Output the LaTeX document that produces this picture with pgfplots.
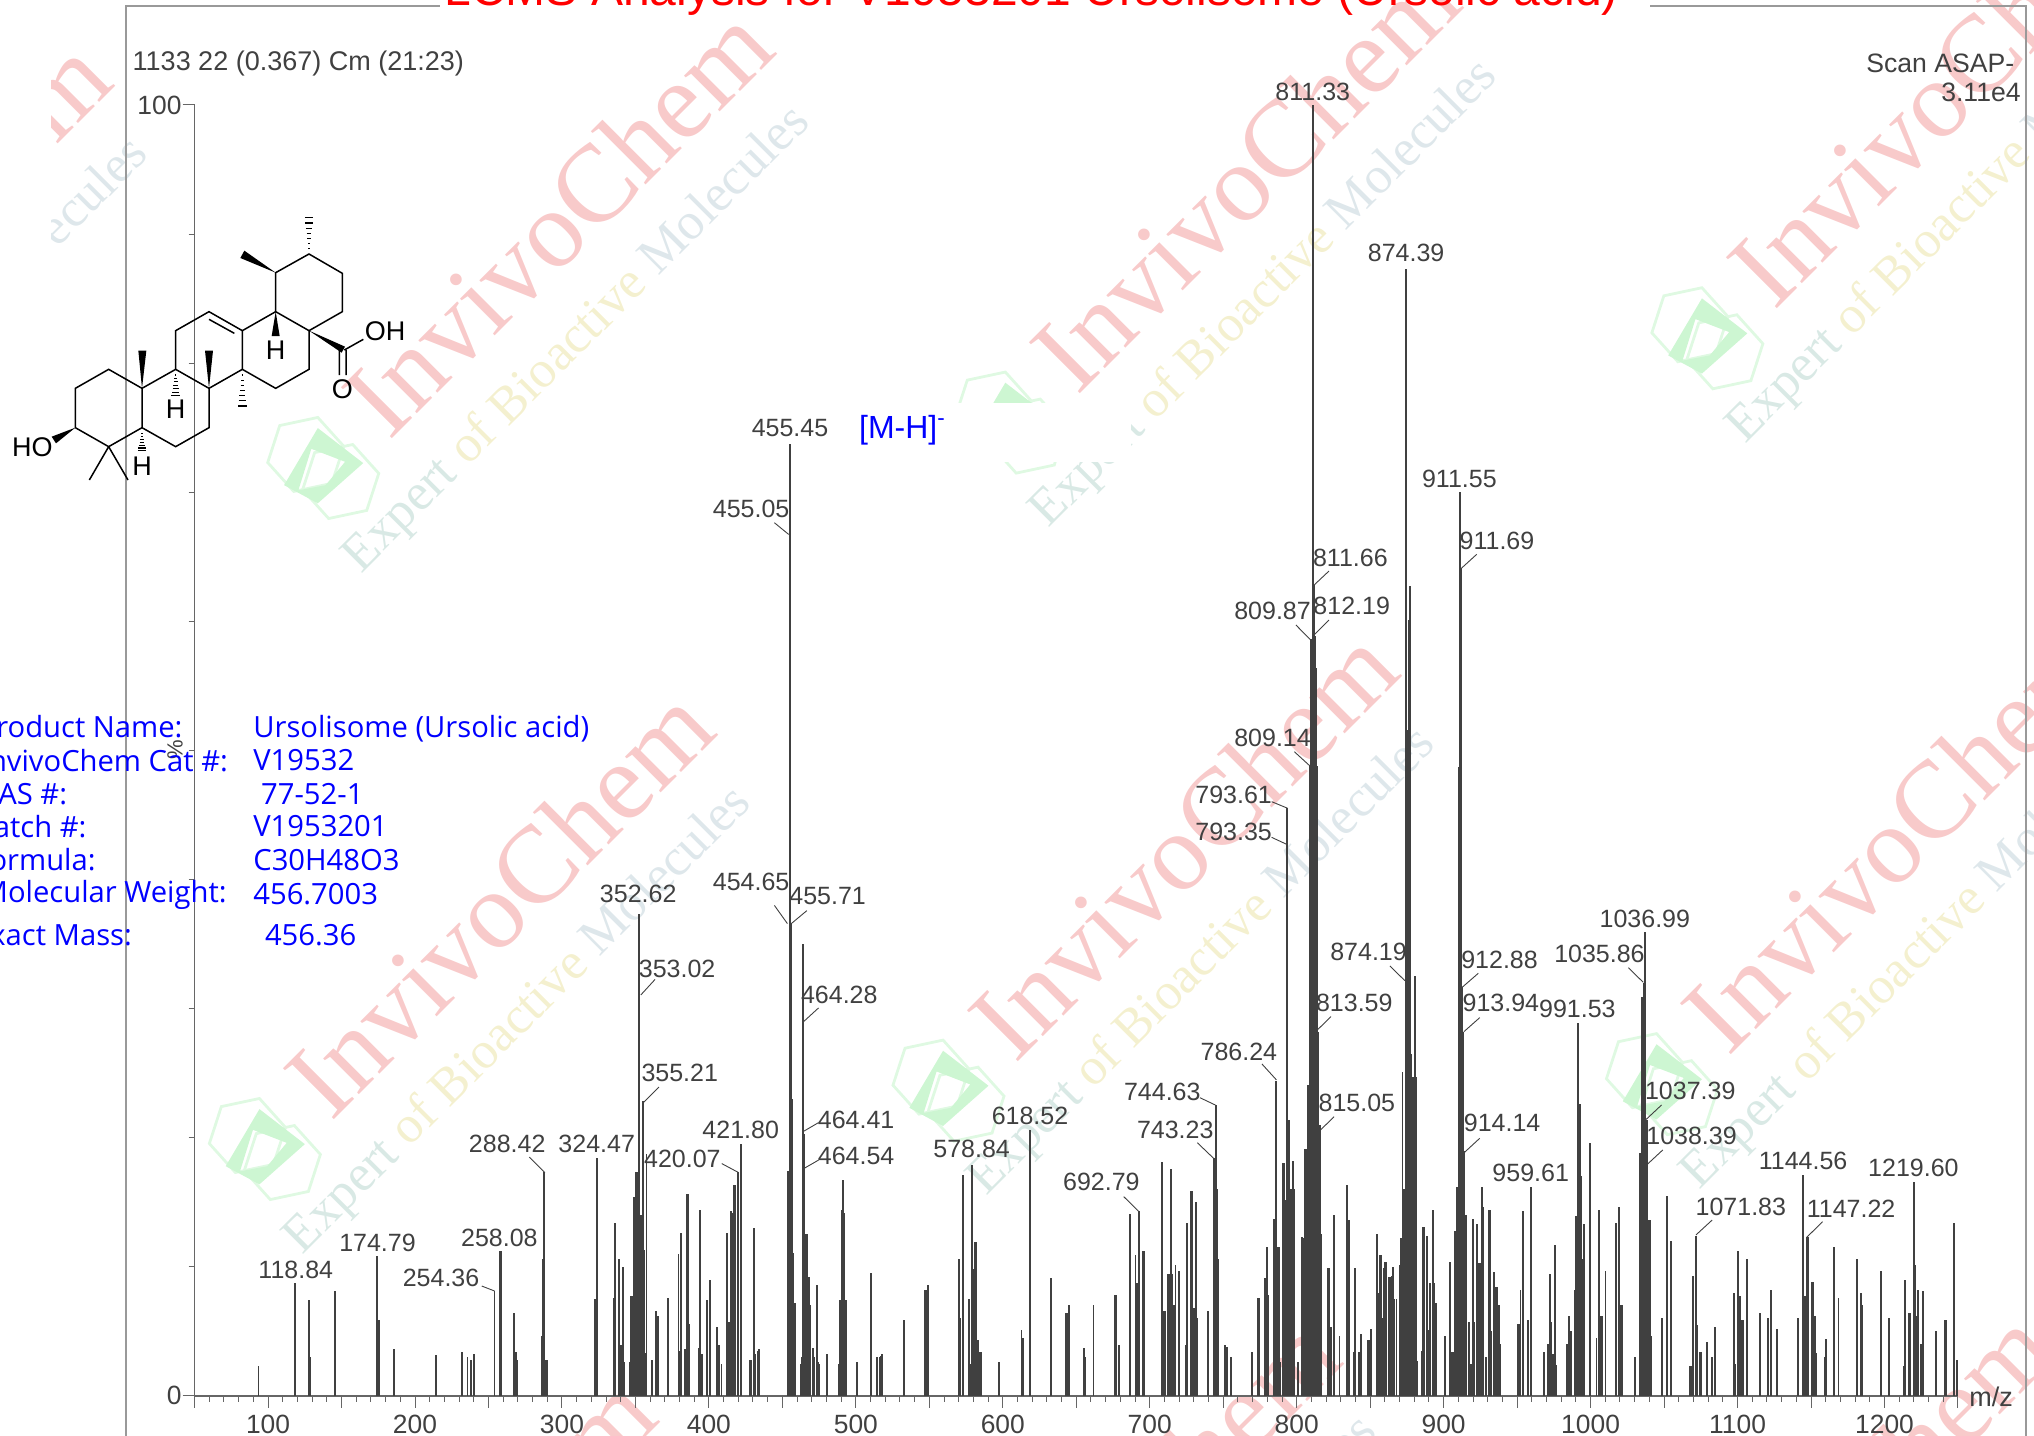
\documentclass[border=0pt]{standalone}
\usepackage{fontspec}
\usepackage{pgfplots}
\pgfplotsset{compat=1.18}
\setmainfont{Liberation Sans}
\newfontfamily\wmfont{Liberation Serif}
\newfontfamily\infofont{Open Sans}
\definecolor{peak}{HTML}{404040}
\definecolor{axgray}{HTML}{666666}
\definecolor{framegray}{HTML}{999999}
\definecolor{wmred}{HTML}{F8CACA}
\definecolor{wmgreen}{HTML}{DFF9E2}
\definecolor{wmgreenb}{HTML}{CDF6D2}
\definecolor{wma}{HTML}{D9E9E5}
\definecolor{wmb}{HTML}{F4F0CF}
\definecolor{wmc}{HTML}{DEE7EB}

% watermark block, origin is the centre of the hexagon logo
\newcommand{\wm}[2]{%
\begin{scope}[shift={(#1,#2)}]
  \draw[wmgreen,line width=1.4pt,rotate=12] (-10,-12)++(30,0)--++(120:30)--++(180:30)--++(240:30)--++(300:30)--++(0:30)--cycle;
  \draw[wmgreen,line width=1.4pt,rotate=12] (12,14)++(30,0)--++(120:30)--++(180:30)--++(240:30)--++(300:30)--++(0:30)--cycle;
  \fill[wmgreenb,even odd rule] (-3,-30)--(32,-3)--(-3,28)--(-29,14)--cycle (-8,-14)--(18,-4)--(3,14)--(-18,18)--cycle;
  \node[rotate=45,text=wmred,font=\wmfont\fontsize{55}{55}\selectfont] at (182,-190) {InvivoChem};
  \node[rotate=45,font=\wmfont\fontsize{26}{26}\selectfont] at (197,-98)
    {\textcolor{wma}{Expert} \textcolor{wmb}{of Bioactive} \textcolor{wmc}{Molecules}};
\end{scope}}
\newcommand{\hash}[3]{% x, narrow end y, wide end y
  \foreach \t in {0,0.16,...,1.01} {
    \pgfmathsetmacro{\hy}{#2+(#3-#2)*\t}
    \pgfmathsetmacro{\hw}{2+11*\t}
    \draw[line width=0.55pt] (#1-\hw,\hy)--(#1+\hw,\hy);
  }}
\newcommand{\lb}[3]{\node[text=peak,font=\fontsize{12.5}{12.5}\selectfont,inner sep=0pt] at (#1,#2) {#3};}
\newcommand{\ld}[4]{\draw[peak,line width=0.45pt] (#1,#2)--(#3,#4);}

\begin{document}
\begin{tikzpicture}[x=0.6486pt,y=-0.6486pt]
\useasboundingbox (0,0) rectangle (1568,1107);
\clip (0,0) rectangle (1568,1107);

% watermarks
\begin{scope}
  \clip (40,0) rectangle (1568,190);
  \wm{-262}{385}
\end{scope}
\wm{248}{360}
\wm{778}{325}
\wm{1315}{260}
\wm{203}{885}
\wm{730}{840}
\wm{1280}{835}
\wm{158}{1415}
\wm{685}{1370}
\wm{1235}{1365}
\fill[white] (648,311) rectangle (872,356);

% frame round the spectrum
\draw[framegray,line width=0.9pt] (339,4.5)--(97,4.5)--(97,1107);
\draw[framegray,line width=0.9pt] (1272,4.5)--(1562,4.5)--(1562,1107);
\node[text=red,anchor=base,inner sep=0pt,font=\fontsize{24}{24}\selectfont] at (795,4)
  {LCMS Analysis for V1953201 Ursolisome (Ursolic acid)};

\coordinate (axorigin) at (150,1076);
\begin{axis}[
    at={(axorigin)},
    anchor=south west,
    scale only axis,
    width=881.7pt,
    height=645.4pt,
    xmin=50, xmax=1250,
    ymin=0, ymax=100,
    axis lines=left,
    axis line style={axgray,line width=0.75pt,-},
    clip=false,
    xtick={50,100,...,1250},
    xticklabels={,100,,200,,300,,400,,500,,600,,700,,800,,900,,1000,,1100,,1200,},
    minor xtick={60,70,80,90,110,120,130,140,160,170,180,190,210,220,230,240,260,270,280,290,310,320,330,340,360,370,380,390,410,420,430,440,460,470,480,490,510,520,530,540,560,570,580,590,610,620,630,640,660,670,680,690,710,720,730,740,760,770,780,790,810,820,830,840,860,870,880,890,910,920,930,940,960,970,980,990,1010,1020,1030,1040,1060,1070,1080,1090,1110,1120,1130,1140,1160,1170,1180,1190,1210,1220,1230,1240},
    ytick={0,100},
    yticklabels={0,100},
    minor ytick={10,20,...,90},
    tick align=outside,
    major tick length=6pt,
    minor tick length=3pt,
    tick style={axgray,line width=0.5pt},
    ticklabel style={text=peak,font=\fontsize{13.2}{13.2}\selectfont},
    y tick label style={xshift=3pt},
    /pgf/number format/assume math mode=true,
]
\addplot[ycomb,no markers,color=peak,line width=0.95pt] coordinates {
(93.5,2.3)(118.4,8.7)(127.6,7.4)(128.4,3.0)(145.5,8.1)(174.3,10.8)(175.5,5.9)(185.5,3.5)(186,3.6)
(214.3,3.15)(232.2,3.4)(235.7,3.0)(238.4,2.8)(240.2,3.2)(254.1,8.1)(257.8,11.2)(258.3,11.2)
(267.1,6.4)(267.7,6.4)(268.5,3.4)(269.6,2.8)(286.4,4.6)(287,10.6)(288.05,17.3)(289.1,2.8)(290,2.8)
(322.2,7.5)(323.6,18.4)(335.6,7.6)(336.4,13.4)(338.5,10.6)(339.1,10.6)(339.9,3.9)(341.3,10)(342.3,2.6)
(346.6,2.6)(347.2,7.7)(348.4,7.7)(349.2,15.4)(349.8,15.4)(350.5,17.3)(351,17.3)(351.4,7.7)(351.9,7.7)
(352.3,37.3)(352.8,37.3)(353.2,11.3)(353.6,13.9)(354,14)(354.5,11.3)(355,22.8)(355.4,22.8)(355.8,11.3)
(356.2,11.3)(356.8,3.3)(357.5,18.7)(361.3,2.8)(364.2,6.6)(365.3,6.2)(372.4,7.6)(379.3,11)(380,3.5)(380.9,12.6)
(383.6,3.6)(385.2,15.6)(385.8,15.6)(386.6,5.6)(393.4,3.7)(394.2,14.4)(395.3,3.2)(398.5,7.4)(400.5,9)
(405.4,5.3)(407,3.9)(408.6,2.5)(412.6,12.6)(413.7,5.7)(415,14.3)(415.6,14.2)(417.1,16.3)(417.8,16.3)(419.6,17.3)
(421.9,19.5)(427.9,2.8)(428.6,2.8)(430.8,13)(431.6,3.2)(433.6,3.5)(434.2,3.6)
(453.6,17.4)(454.4,17.4)(455,73.7)(455.3,66.7)(455.6,36.6)(456,36.6)(456.7,23)(457.4,11.1)(458.3,7.2)
(462.4,2.5)(463.1,3)(463.6,3)(464.2,35)(464.5,20.3)(464.9,17.4)(465.6,12.5)(466.6,12.5)(467.5,9.2)(468,9.2)(468.5,7)
(471,3.7)(471.7,3)(473.3,8.6)(474.1,2.6)(474.8,2.5)(480.4,3.2)(488.4,2.5)(489.4,7.4)(490.3,14.4)(490.7,14.4)(491.5,16.7)(492,14.2)(493.5,7.4)
(500.7,2.6)(510.6,9.5)(514.3,3)(516.3,3)(516.9,3.1)(517.7,3.2)(532.6,5.9)(546.9,8.2)(547.6,8.2)(548.9,8.6)
(570.4,10.6)(570.8,6)(573,17.1)(576.7,7.5)(577.5,2.5)(579,17.9)(579.8,9.8)(581,11.9)(581.6,11.9)(582.7,4.3)(583.2,4.3)(584.4,3.4)(585,3.4)
(597.3,2.6)(612.7,5.1)(613.9,4.5)(618.5,20.6)(633,9.1)(643.1,6.4)(644,6.4)(645,7)(655.1,3.7)(655.7,3)(661.7,7)
(676.3,7.8)(676.9,7.8)(678.8,3.9)(679.4,3.9)(686.3,14.1)(690.3,10.9)(691.1,8.7)(692,8.7)(692.8,14.3)(695.7,11.2)(696.3,11.2)
(708.6,18.1)(709.5,6.6)(710.4,6.6)(712.6,9.4)(713.4,9.4)(714.6,17.6)(715.2,9.4)(716.3,7)(717.5,10.1)(720,9.7)
(724.8,3.9)(725.6,13.4)(728,15.9)(728.6,15.9)(729.2,6.1)(730.3,6.8)(731.5,15)(732.1,6)(739.5,6.6)
(743.5,18.4)(744.1,18.4)(744.9,22.5)(745.5,16)(746.1,10.6)(746.7,10.6)(751.2,3.9)(752.6,3.8)(755.2,3)
(769.5,3.4)(773.5,7.6)(774.1,7.6)(778.7,9.1)(779.6,11.5)(780.4,7.8)(784.8,13.7)(786.2,24.4)(787,11.5)(787.7,11.5)(788.3,11.5)(789,2.6)
(790.3,18)(791.1,18)(791.6,15.2)(792.2,15.2)(792.7,15.2)(793.4,45.5)(793.6,42.7)(794.2,21.4)(795,21.4)(795.6,16)(796.2,16)(797.6,18.2)(798.2,16)
(801,2.6)(803.4,12.3)(804.7,12.2)(805.4,19.1)(806.2,19.1)(806.8,12.5)(807.5,24.1)(808.2,24.1)(808.8,48.8)(809.3,48.8)(809.8,58.6)(810.3,58.6)
(810.8,56.4)(811.3,100)(811.7,62.8)(812.2,58.9)(812.6,56.4)(813,56.4)(813.5,48.8)(814,48.8)(814.4,28.2)(815,21)(815.6,21)(816.4,12.5)(816.8,12.5)
(821.3,9.9)(821.9,9.9)(822.8,5.3)(823.4,5.3)(825.1,14)(825.7,14)(829.1,4.6)(834.3,16.3)(835.1,13.6)(835.9,13.6)(839,3.4)(839.9,9.9)(842.4,3.4)(843.6,4.8)
(848.7,4.3)(849.3,4.3)(850.4,5.2)(854.7,12.5)(855.5,8)(856.9,10.9)(857.7,10.9)(858.3,6)(859.2,9.9)(860.3,10.4)(860.9,10.4)(862.9,9.2)(864.2,9.2)(865,9.3)(865.6,10)(866.4,7.5)
(867.9,7.5)(870.2,10.1)(871.1,12.2)(872,25.1)(872.8,16)(873.3,16)(873.8,16)(874.2,16)(874.6,87.3)(875,32)(875.4,51.6)(876,51.6)(876.5,60.1)(877,62.7)(877.4,51.6)
(877.9,26.5)(878.3,24.7)(878.8,24.7)(879.3,24.7)(879.8,24.7)(880.3,32.5)(880.7,32.5)(881.1,24.7)(881.6,2.7)
(884.9,3.5)(886,13.1)(886.8,13.1)(888.5,12.4)(889.1,2.9)(890,5.1)(890.9,8.7)(892.6,14.4)(893.2,8.7)(893.9,6.2)(895,7.2)
(901.1,4.6)(904.4,10.4)(905.5,3.4)(906.2,3.4)(907.4,12.8)(908.2,12.8)(909.1,16.2)(909.8,16.2)(910.2,48.7)(910.7,48.7)(911.2,70)(911.6,64.1)(912,48.7)(912.4,31.7)(912.8,28.2)(913.2,28.2)
(913.6,19)(914,19)(914.4,14)(914.9,14)(917,5.7)(918.4,2.5)(920.1,13.7)(921,5.7)(922.6,13.3)(923.7,10.3)(924.5,10.3)(926.1,16.2)(926.9,14.6)(928.6,3)
(931.1,14.4)(931.7,14.4)(932.5,5)(934.4,9.6)(935.5,8.4)(936.6,8.4)(937.7,7)(938.2,4)
(950.4,5.6)(951.4,5.6)(952.3,8.2)(953.7,14.3)(957.3,5.9)(959.5,16.2)(968,3.4)(971.3,4)(972.1,9.4)(973.2,5.7)(974.2,3.2)(975.7,11.7)(976.5,2.4)
(983.7,4)(985.3,6.2)(986.4,5)(989.2,8.2)(990.3,13.9)(991.7,28.9)(992.5,22.6)(993.3,17)(994.7,10.6)(995.4,10.6)(995.8,13.3)
(999.7,19.6)(1004,4.5)(1005.6,14.4)(1007.3,6.2)(1008,6.2)(1010.1,9.7)(1017.4,13.4)(1019.6,14.6)(1020.5,7)(1021.2,7)
(1030.4,3)(1033.5,18.8)(1034,11.7)(1034.8,18.8)(1035.2,30.9)(1035.8,30.9)(1036.3,32)(1036.8,11.7)(1037.2,35.9)(1037.7,21.4)(1038.1,21.4)(1038.6,17.9)
(1039.2,12)(1039.7,13.6)(1040.2,13.6)(1041.1,4.6)(1048.8,6)(1051.7,15.5)(1054.9,12)
(1067.6,2.3)(1068.6,2.3)(1069.4,9.3)(1071.7,12.4)(1072.6,5.5)(1074.2,3.4)(1075,3.4)(1079.5,4.2)(1082.8,3)(1084.7,5.3)
(1097.4,8)(1098.2,2.5)(1100.1,11.2)(1101.5,7.7)(1102.9,5.9)(1103.7,5.9)(1106.7,10.6)(1115,6.4)(1120.5,6)(1123,8.2)(1127.1,5.2)
(1141.1,6)(1144.7,17.1)(1145.8,7.7)(1147.2,12.3)(1147.8,12.3)(1150.5,8.8)(1151.1,8.8)(1152,5)(1153,6.2)(1153.7,3.3)(1159.2,3)(1160.1,4.4)
(1165.9,11.5)(1168.7,7.6)(1181.3,10.6)(1184,8)(1184.9,7)(1197.6,9.7)(1203.3,6)(1213.2,2.3)(1214,9)(1216.5,6.4)(1217.3,6.4)
(1219.8,16.6)(1220.7,10.1)(1221.3,6.2)(1222,6.2)(1222.9,8.2)(1224.5,4)(1225.3,4)(1226.2,8.1)(1235.3,5)(1241.3,5.9)(1242,5.9)(1247.4,13.4)(1249.3,2.8)
};
\end{axis}

% leader lines
\ld{371.4}{991.4}{381.2}{995.2}
\ld{408}{892}{420}{904}
\ld{505}{755}{494}{767}
\ld{508}{838}{496}{850}
\ld{556.4}{897}{569.5}{904}
\ld{597}{403}{608}{412}
\ld{597}{698}{607}{712}
\ld{622}{702}{610}{712}
\ld{631}{777}{619}{788}
\ld{631}{865.4}{619}{872.4}
\ld{631}{894.3}{619}{901.2}
\ld{866.3}{922.5}{878}{934}
\ld{923}{880.9}{935.5}{892.9}
\ld{925}{846.2}{937}{851.9}
\ld{972.8}{820.2}{984}{832.5}
\ld{980.3}{618}{992.4}{623}
\ld{980.3}{645.5}{991.9}{650.9}
\ld{997.8}{579.5}{1010.4}{591}
\ld{999}{481.8}{1010.4}{493.4}
\ld{1024.5}{440.2}{1013}{451}
\ld{1024.5}{478}{1013}{489.5}
\ld{1026}{783.7}{1015}{794.5}
\ld{1028.4}{860.9}{1016.6}{872.4}
\ld{1071.5}{744.7}{1083}{756}
\ld{1138.4}{427.3}{1126}{438.6}
\ld{1139.6}{750.3}{1127.3}{761}
\ld{1140.7}{784.5}{1128.5}{795.3}
\ld{1140.7}{877.5}{1129}{888.3}
\ld{1255.3}{746}{1266.8}{757.3}
\ld{1280.9}{851.8}{1268.5}{863.4}
\ld{1281.8}{886.5}{1269.4}{898}
\ld{1319.9}{940.5}{1307.4}{952}
\ld{1405}{941.8}{1392.8}{953.8}

% peak labels
\lb{228}{979}{118.84}
\lb{291}{958}{174.79}
\lb{340}{985}{254.36}
\lb{385}{954}{258.08}
\lb{391}{882}{288.42}
\lb{460}{882}{324.47}
\lb{492}{689}{352.62}
\lb{522}{747}{353.02}
\lb{524}{827}{355.21}
\lb{526}{893}{420.07}
\lb{571}{871}{421.80}
\lb{609}{330}{455.45}
\lb{579}{392}{455.05}
\lb{579}{680}{454.65}
\lb{638}{691}{455.71}
\lb{647}{767}{464.28}
\lb{660}{863}{464.41}
\lb{660}{891}{464.54}
\lb{749}{886}{578.84}
\lb{794}{860}{618.52}
\lb{849}{911}{692.79}
\lb{906}{871}{743.23}
\lb{896}{842}{744.63}
\lb{955}{811}{786.24}
\lb{951}{613}{793.61}
\lb{951}{641}{793.35}
\lb{981}{569}{809.14}
\lb{981}{471}{809.87}
\lb{1012}{71}{811.33}
\lb{1041}{430}{811.66}
\lb{1042}{467}{812.19}
\lb{1044}{773}{813.59}
\lb{1046}{850}{815.05}
\lb{1084}{195}{874.39}
\lb{1055}{734}{874.19}
\lb{1125}{369}{911.55}
\lb{1154}{417}{911.69}
\lb{1156}{740}{912.88}
\lb{1157}{773}{913.94}
\lb{1158}{866}{914.14}
\lb{1180}{904}{959.61}
\lb{1216}{778}{991.53}
\lb{1233}{735}{1035.86}
\lb{1268}{708}{1036.99}
\lb{1303}{841}{1037.39}
\lb{1304}{876}{1038.39}
\lb{1342}{930}{1071.83}
\lb{1390}{895}{1144.56}
\lb{1427}{932}{1147.22}
\lb{1475}{900}{1219.60}

% header and corner text
\node[anchor=west,inner sep=0pt,text=peak,font=\fontsize{13.5}{13.5}\selectfont] at (102,49) {1133 22 (0.367) Cm (21:23)};
\node[anchor=east,inner sep=0pt,text=peak,font=\fontsize{13.3}{13.3}\selectfont] at (1553,49) {Scan ASAP-};
\node[anchor=east,inner sep=0pt,text=peak,font=\fontsize{13.3}{13.3}\selectfont] at (1558,71) {3.11e4};
\node[inner sep=0pt,text=peak,font=\fontsize{13.5}{13.5}\selectfont] at (1535,1077) {m/z};
\node[inner sep=0pt,text=peak,rotate=90,font=\fontsize{11}{11}\selectfont] at (135,578) {\%};
\node[anchor=base west,inner sep=0pt,text=blue,font=\fontsize{16}{16}\selectfont] at (662,338) {[M-H]\textsuperscript{-}};

% product information
\begin{scope}[every node/.style={inner sep=0pt,text=blue,font=\infofont\fontsize{14.6}{14.6}\selectfont}]
\node[anchor=east] at (141,560) {Product Name:};
\node[anchor=east] at (176,586) {InvivoChem Cat \#:};
\node[anchor=east] at (52,612) {CAS \#:};
\node[anchor=east] at (67,637) {Batch \#:};
\node[anchor=east] at (74,663) {Formula:};
\node[anchor=east] at (175,690) {Molecular Weight:};
\node[anchor=east] at (102,721) {Exact Mass:};
\node[anchor=west] at (195,561.5) {Ursolisome (Ursolic acid)};
\node[anchor=west] at (195,586) {V19532};
\node[anchor=west] at (201,612) {77-52-1};
\node[anchor=west] at (195,637) {V1953201};
\node[anchor=west] at (195,663) {C30H48O3};
\node[anchor=west] at (195,689) {456.7003};
\node[anchor=west] at (204,721) {456.36};
\end{scope}

% structure of ursolic acid, units are the 3x crop of the top left corner
\begin{scope}[x=0.16667pt,y=-0.16667pt,line join=miter]
\draw[line width=0.75pt] (226,1165)--(326,1108)--(426,1165)--(426,1283)--(326,1340)--(226,1283)--cycle;
\draw[line width=0.75pt] (426,1165)--(527,1108)--(627,1165)--(627,1283)--(527,1340)--(426,1283);
\draw[line width=0.75pt] (527,1108)--(527,992)--(627,935)--(727,992)--(727,1108)--(627,1165);
\draw[line width=0.75pt] (627,958)--(703,1000);
\draw[line width=0.75pt] (727,992)--(827,935)--(927,992)--(927,1108)--(827,1165)--(727,1108);
\draw[line width=0.75pt] (827,935)--(827,818)--(927,762)--(1027,820)--(1027,935)--(927,992);
\draw[line width=0.75pt] (326,1340)--(268,1440) (326,1340)--(384,1440);
\draw[line width=0.75pt] (1033,1050)--(1090,1018) (1018,1050)--(1018,1125) (1038,1050)--(1038,1125);
\fill (226,1283)--(155,1310)--(168,1330)--cycle;
\fill (426,1165)--(415,1052)--(439,1052)--cycle;
\fill (627,1165)--(615,1052)--(639,1052)--cycle;
\fill (827,818)--(733,752)--(721,774)--cycle;
\fill (827,935)--(815,1008)--(839,1008)--cycle;
\fill (927,992)--(1035,1040)--(1025,1058)--cycle;
\hash{727}{1125}{1222}
\hash{927}{745}{650}
\hash{527}{1125}{1190}
\hash{426}{1300}{1355}
\begin{scope}[every node/.style={inner sep=0pt,font=\fontsize{13.5}{13.5}\selectfont}]
\node at (97,1342) {HO};
\node at (426,1400) {H};
\node at (527,1228) {H};
\node at (827,1052) {H};
\node at (1155,995) {OH};
\node at (1027,1168) {O};
\end{scope}
\end{scope}
\end{tikzpicture}
\end{document}
